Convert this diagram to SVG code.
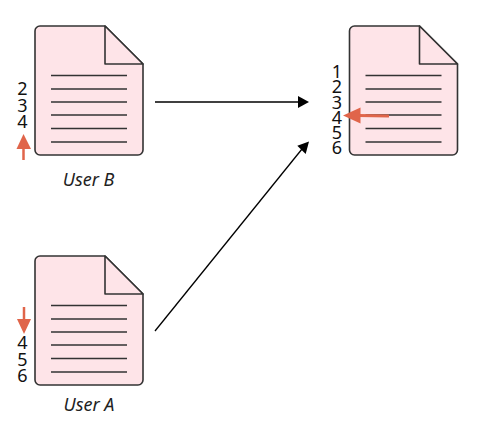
<svg xmlns="http://www.w3.org/2000/svg" width="498" height="429" viewBox="0 0 498 429">
<style>
.page{fill:#fee4e8;stroke:#333;stroke-width:1.6;stroke-linejoin:round}
.rule{stroke:#333;stroke-width:1.5;fill:none}
.num{font:18px "Noto Sans","Open Sans",sans-serif;fill:#111;text-anchor:middle}
.cap{font:italic 18px "Noto Sans","Open Sans",sans-serif;fill:#222;text-anchor:middle}
.hl{stroke:#e0654a;fill:none}
.hh{fill:#e0654a}
.conn{stroke:#000;stroke-width:1.3;fill:none}
</style>
<defs>
<g id="doc">
<path class="page" d="M5 0H70L108 38V124a5 5 0 0 1-5 5H5a5 5 0 0 1-5-5V5a5 5 0 0 1 5-5Z"/>
<path class="page" d="M70 0V38H108Z"/>
<path class="rule" d="M16 49.500H92M16 63H92M16 76H92M16 89H92M16 102.500H92M16 116H92"/>
</g>
</defs>
<g id="connectors">
<path class="conn" d="M155 102H299"/>
<path d="M309 102L298 96V108Z"/>
<path class="conn" d="M155 331L302 149"/>
<path d="M309 141.500L297.300 145.700L305.700 154Z"/>
</g>
<g id="user-b">
<use href="#doc" x="35" y="26"/>
<text class="num" x="22.500" y="95">2</text>
<text class="num" x="22.500" y="111.500">3</text>
<text class="num" x="22.500" y="127.500">4</text>
<path class="hl" stroke-width="2.500" d="M23.500 160V146"/>
<path class="hh" d="M23.500 134L31 149H16.500Z"/>
<text class="cap" x="88.500" y="185.500">User B</text>
</g>
<g id="user-a">
<use href="#doc" x="35" y="256"/>
<path class="hl" stroke-width="2.500" d="M24 307V322"/>
<path class="hh" d="M24 334L17 319H31Z"/>
<text class="num" x="22.500" y="349">4</text>
<text class="num" x="22.500" y="366">5</text>
<text class="num" x="22.500" y="382">6</text>
<text class="cap" x="89" y="411">User A</text>
</g>
<g id="merged">
<use href="#doc" x="349.500" y="26"/>
<text class="num" x="337" y="78">1</text>
<text class="num" x="337" y="93">2</text>
<text class="num" x="337" y="108.500">3</text>
<text class="num" x="337" y="123.500">4</text>
<text class="num" x="337" y="138.500">5</text>
<text class="num" x="337" y="153.500">6</text>
<path class="hl" stroke-width="3" d="M389 116L358 115.500"/>
<path class="hh" d="M343 115.500L360.500 107.500V123.500Z"/>
</g>
</svg>
